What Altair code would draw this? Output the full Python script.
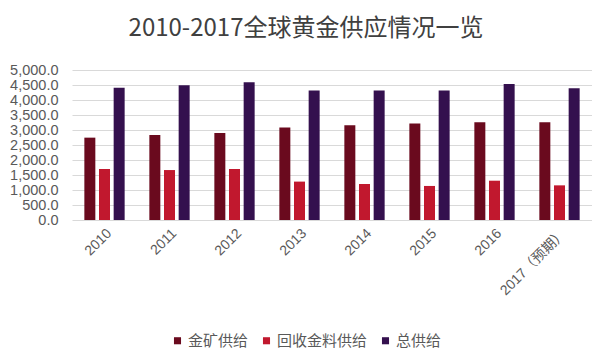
import altair as alt
import pandas as pd

years = ["2010", "2011", "2012", "2013", "2014", "2015", "2016", "2017（预期）"]
series = ["金矿供给", "回收金料供给", "总供给"]
mine = [2745, 2835, 2900, 3080, 3155, 3220, 3255, 3255]
recycle = [1700, 1665, 1700, 1280, 1200, 1135, 1310, 1155]
total = [4410, 4490, 4590, 4315, 4315, 4320, 4535, 4390]
colors = ["#6A0A1E", "#C1182E", "#34104E"]

rows = []
for i, y in enumerate(years):
    for s, vals in zip(series, [mine, recycle, total]):
        rows.append({"year": y, "series": s, "value": vals[i]})
df = pd.DataFrame(rows)

FONT = "Noto Sans CJK SC"
NUMFONT = "Liberation Sans, Noto Sans CJK SC"

chart = alt.Chart(df).mark_bar().encode(
    x=alt.X("year:N", sort=years, title=None,
            scale=alt.Scale(paddingInner=0.38, paddingOuter=0.19),
            axis=alt.Axis(labelAngle=-45, domain=False, ticks=False,
                          labelFontSize=14, labelColor="#595959",
                          labelFont=NUMFONT, labelPadding=6)),
    xOffset=alt.XOffset("series:N", sort=series,
                        scale=alt.Scale(paddingInner=0.25, paddingOuter=0)),
    y=alt.Y("value:Q", title=None,
            scale=alt.Scale(domain=[0, 5000]),
            axis=alt.Axis(values=list(range(0, 5001, 500)), format=",.1f",
                          domain=False, ticks=False, labelFontSize=14.5,
                          labelColor="#595959", labelFont=NUMFONT,
                          gridColor="#D9D9D9", labelPadding=14)),
    color=alt.Color("series:N", sort=series,
                    scale=alt.Scale(domain=series, range=colors),
                    legend=alt.Legend(title=None, orient="none", direction="horizontal",
                                      legendX=98, legendY=263,
                                      symbolType="square", symbolSize=50,
                                      symbolStrokeWidth=0,
                                      labelFontSize=15, labelColor="#595959",
                                      labelFont=FONT, columnPadding=10,
                                      labelOffset=3)),
).properties(
    width=520, height=150,
    autosize=alt.AutoSizeParams(type="none"),
    padding={"left": 64, "top": 62, "right": 0, "bottom": 136},
    title=alt.TitleParams("2010-2017全球黄金供应情况一览", fontSize=24,
                          font=FONT, fontWeight="normal", color="#404040",
                          anchor="middle", dx=-26, offset=21),
).configure_view(stroke=None)

chart.save("out.html", embed_options={"renderer": "svg", "actions": False})
